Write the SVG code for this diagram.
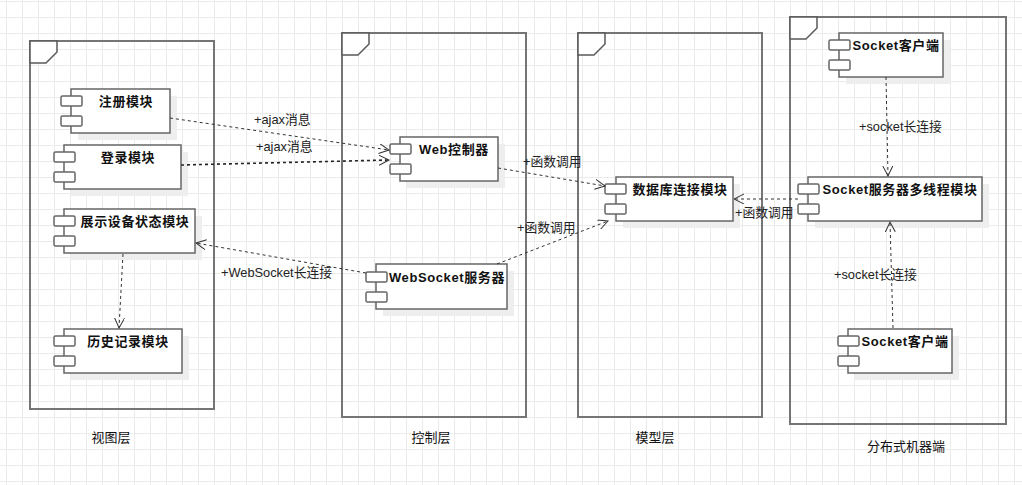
<svg xmlns="http://www.w3.org/2000/svg" width="1022" height="485" viewBox="0 0 1022 485">
<defs>
<pattern id="grid" width="16" height="16" patternUnits="userSpaceOnUse" x="6" y="1">
<path d="M0.5,0 V16 M0,0.5 H16" stroke="#ebebeb" stroke-width="1" fill="none"/>
</pattern>
<marker id="arr" markerWidth="12" markerHeight="12" refX="10" refY="5" orient="auto" markerUnits="userSpaceOnUse">
<path d="M0,0 L10,5 L0,10" fill="none" stroke="#333" stroke-width="1"/>
</marker>
</defs>
<style>
.pkg{fill:none;stroke:#757575;stroke-width:2}
.tab{fill:#fff;stroke:#5a5a5a;stroke-width:1.5}
.shadow{fill:#eeeeee}
.box{fill:#fff;stroke:#666;stroke-width:1.5}
.icon{fill:#fff;stroke:#666;stroke-width:1.5}
.name{font-family:"Liberation Sans","Noto Sans CJK SC",sans-serif;font-size:13px;font-weight:bold;fill:#111;text-anchor:middle;letter-spacing:0.6px}
.lbl{font-family:"Liberation Sans","Noto Sans CJK SC",sans-serif;font-size:12.8px;fill:#222}
.layer{font-family:"Liberation Sans","Noto Sans CJK SC",sans-serif;font-size:13px;fill:#111;text-anchor:middle}
.dep{fill:none;stroke:#333;stroke-width:1;stroke-dasharray:3,3;marker-end:url(#arr)}
</style>
<rect width="1022" height="485" fill="#fff"/>
<rect width="1022" height="485" fill="url(#grid)"/>

<g id="pkg-view">
<rect class="pkg" x="30" y="41" width="184" height="368"/>
<path class="tab" d="M30,41 H57 V52 L46,63 H30 Z"/>
<text class="layer" x="111" y="442">视图层</text>
</g>
<g id="pkg-control">
<rect class="pkg" x="342" y="33" width="184" height="384"/>
<path class="tab" d="M342,33 H369 V44 L358,55 H342 Z"/>
<text class="layer" x="431" y="442">控制层</text>
</g>
<g id="pkg-model">
<rect class="pkg" x="578" y="33" width="184" height="384"/>
<path class="tab" d="M578,33 H605 V44 L594,55 H578 Z"/>
<text class="layer" x="655" y="442">模型层</text>
</g>
<g id="pkg-dist">
<rect class="pkg" x="790" y="17" width="216" height="407"/>
<path class="tab" d="M790,17 H817 V28 L806,39 H790 Z"/>
<text class="layer" x="906" y="451">分布式机器端</text>
</g>

<g id="c-reg">
<rect class="shadow" x="78" y="96" width="99" height="44"/>
<rect class="box" x="71" y="89" width="99" height="44"/>
<rect class="icon" x="61" y="96" width="21" height="10" rx="1.5"/>
<rect class="icon" x="61" y="116" width="21" height="10" rx="1.5"/>
<text class="name" x="126" y="106">注册模块</text>
</g>
<g id="c-login">
<rect class="shadow" x="71" y="152" width="117" height="44"/>
<rect class="box" x="64" y="145" width="117" height="44"/>
<rect class="icon" x="54" y="152" width="21" height="10" rx="1.5"/>
<rect class="icon" x="54" y="172" width="21" height="10" rx="1.5"/>
<text class="name" x="128" y="162">登录模块</text>
</g>
<g id="c-show">
<rect class="shadow" x="71" y="216" width="131" height="44"/>
<rect class="box" x="64" y="209" width="131" height="44"/>
<rect class="icon" x="54" y="216" width="21" height="10" rx="1.5"/>
<rect class="icon" x="54" y="236" width="21" height="10" rx="1.5"/>
<text class="name" x="135" y="226">展示设备状态模块</text>
</g>
<g id="c-hist">
<rect class="shadow" x="71" y="336" width="118" height="44"/>
<rect class="box" x="64" y="329" width="118" height="44"/>
<rect class="icon" x="54" y="336" width="21" height="10" rx="1.5"/>
<rect class="icon" x="54" y="356" width="21" height="10" rx="1.5"/>
<text class="name" x="128" y="346">历史记录模块</text>
</g>
<g id="c-web">
<rect class="shadow" x="407" y="144" width="98" height="44"/>
<rect class="box" x="400" y="137" width="98" height="44"/>
<rect class="icon" x="390" y="144" width="21" height="10" rx="1.5"/>
<rect class="icon" x="390" y="164" width="21" height="10" rx="1.5"/>
<text class="name" x="454" y="154">Web控制器</text>
</g>
<g id="c-ws">
<rect class="shadow" x="383" y="271" width="131" height="45"/>
<rect class="box" x="376" y="264" width="131" height="45"/>
<rect class="icon" x="366" y="272" width="21" height="10" rx="1.5"/>
<rect class="icon" x="366" y="292" width="21" height="10" rx="1.5"/>
<text class="name" x="447" y="282">WebSocket服务器</text>
</g>
<g id="c-db">
<rect class="shadow" x="623" y="184" width="117" height="44"/>
<rect class="box" x="616" y="177" width="117" height="44"/>
<rect class="icon" x="605" y="184" width="21" height="10" rx="1.5"/>
<rect class="icon" x="605" y="204" width="21" height="10" rx="1.5"/>
<text class="name" x="680" y="194">数据库连接模块</text>
</g>
<g id="c-sc1">
<rect class="shadow" x="846" y="40" width="104" height="44"/>
<rect class="box" x="839" y="33" width="104" height="44"/>
<rect class="icon" x="829" y="40" width="21" height="10" rx="1.5"/>
<rect class="icon" x="829" y="60" width="21" height="10" rx="1.5"/>
<text class="name" x="896" y="50">Socket客户端</text>
</g>
<g id="c-srv">
<rect class="shadow" x="815" y="184" width="174" height="44"/>
<rect class="box" x="808" y="177" width="174" height="44"/>
<rect class="icon" x="798" y="184" width="21" height="10" rx="1.5"/>
<rect class="icon" x="798" y="204" width="21" height="10" rx="1.5"/>
<text class="name" x="900" y="194">Socket服务器多线程模块</text>
</g>
<g id="c-sc2">
<rect class="shadow" x="855" y="336" width="104" height="44"/>
<rect class="box" x="848" y="329" width="104" height="44"/>
<rect class="icon" x="838" y="336" width="21" height="10" rx="1.5"/>
<rect class="icon" x="838" y="356" width="21" height="10" rx="1.5"/>
<text class="name" x="905" y="346">Socket客户端</text>
</g>

<g id="connectors">
<path class="dep" d="M170,118 L389,150"/>
<path class="dep" d="M181,165 L389,160" style="stroke-width:1.6;stroke:#222"/>
<path class="dep" d="M498,168 L605,186"/>
<path class="dep" d="M497,264 L608,221"/>
<path class="dep" d="M366,273 L196,243"/>
<path class="dep" d="M798,199 L734,199"/>
<path class="dep" d="M123,254 L119,328"/>
<path class="dep" d="M886,77 L888,176"/>
<path class="dep" d="M893,328 L890,222"/>
<text class="lbl" x="254" y="124">+ajax消息</text>
<text class="lbl" x="256" y="151">+ajax消息</text>
<text class="lbl" x="523" y="166">+函数调用</text>
<text class="lbl" x="517" y="232">+函数调用</text>
<text class="lbl" x="221" y="277">+WebSocket长连接</text>
<text class="lbl" x="735" y="217">+函数调用</text>
<text class="lbl" x="859" y="131">+socket长连接</text>
<text class="lbl" x="834" y="279">+socket长连接</text>
</g>
</svg>
